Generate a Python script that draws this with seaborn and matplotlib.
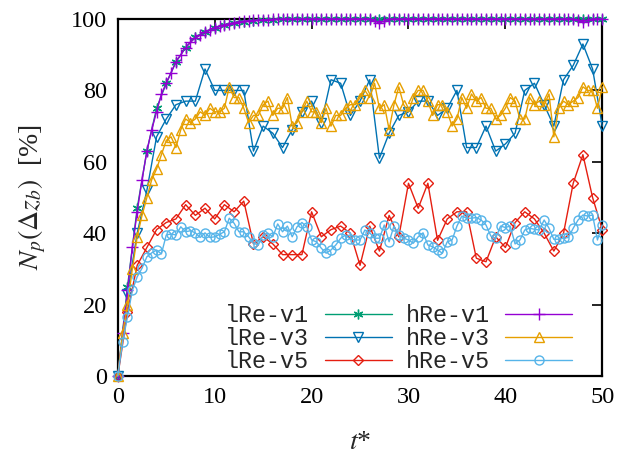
import numpy as np
import pandas as pd
import matplotlib
matplotlib.use("Agg")
import matplotlib.pyplot as plt
import seaborn as sns

# ---------------- data ----------------
t_low = np.arange(0, 51, 1.0)      # lRe series sampled every 1
t_high = np.arange(0, 50.5, 0.5)   # hRe series sampled every 0.5

lRe_v1 = [0, 25, 47, 63, 75, 82, 88, 92, 95, 96.5,
          97.5, 98.3, 98.8, 99.2, 99.5, 99.7, 99.8, 99.9, 100, 100,
          100, 100, 100, 100, 100, 100, 100, 100, 100, 100,
          100, 100, 100, 100, 100, 100, 100, 100, 100, 100,
          100, 100, 100, 100, 100, 100, 100, 100, 100, 100,
          100]
lRe_v3 = [0, 23, 40, 52, 67, 72, 76, 77, 77, 86,
          80, 80, 80, 80, 63, 70, 68, 64, 69, 74,
          77, 71, 83, 82, 73, 77, 83, 61, 68, 73,
          74, 77, 77, 73, 75, 80, 64, 64, 70, 63,
          65, 68, 80, 82, 76, 70, 83, 87, 93, 86,
          70]
lRe_v5 = [0, 18, 31, 36, 41, 43, 44, 48, 45, 47,
          44, 48, 46, 49, 37, 39, 37, 34, 34, 34,
          46, 39, 41, 42, 40, 31, 42, 35, 45, 39,
          54, 47, 54, 38, 44, 46, 46, 33, 32, 39,
          36, 43, 46, 44, 40, 35, 40, 54, 62, 50,
          41]
hRe_v1 = [0, 12, 24, 36, 46, 55, 63, 69, 74, 79,
          82, 85, 88, 90, 92, 93.5, 94.7, 95.5, 96.4, 97,
          97.6, 98, 98.4, 98.7, 99, 99.2, 99.4, 99.5, 99.6, 99.7,
          99.8, 99.8, 99.9, 99.9, 100, 100, 100, 100, 100, 100,
          100, 100, 100, 100, 100, 100, 100, 100, 100, 100,
          100, 100, 100, 99.5, 98.8, 99.5, 100, 100, 100, 100,
          100, 100, 100, 100, 100, 100, 100, 100, 100, 100,
          100, 100, 100, 100, 100, 100, 100, 100, 100, 100,
          100, 100, 100, 100, 100, 100, 100, 100, 100, 100,
          100, 100, 100, 100, 100, 99.6, 99.3, 99.7, 100, 100,
          100]
hRe_v3 = [0, 12, 20, 30, 39, 45, 50, 55, 58, 62,
          66, 67, 64, 69, 72, 71, 72, 74, 73, 75,
          74, 74, 75, 81, 78, 78, 75, 71, 73, 73,
          76, 77, 73, 75, 75, 78, 70, 71, 74, 77,
          74, 74, 71, 75, 70, 73, 73, 75, 76, 76,
          78, 80, 78, 82, 75, 76, 69, 76, 81, 76,
          74, 78, 80, 80, 77, 73, 76, 76, 74, 70,
          72, 78, 75, 79, 77, 78, 75, 75, 72, 73,
          75, 78, 77, 72, 72, 78, 76, 77, 76, 79,
          67, 75, 77, 76, 77, 78, 81, 80, 80, 75,
          81]
hRe_v5 = [0, 9.6, 16.6, 24, 27.8, 30.2, 33.4, 34.5, 35.3, 34.2,
          39.5, 39.8, 39.5, 41.8, 40.4, 40.7, 40.1, 38.8, 40.1, 38.8,
          39, 39.7, 40.4, 44.2, 42.8, 40.4, 40.4, 39, 37.2, 36.7,
          39.5, 40, 39, 42.6, 40.4, 42, 39, 41.8, 43, 41.8,
          38.1, 37.6, 35.8, 34.4, 35.3, 36.7, 38.6, 39.5, 38.3, 38.1,
          38.1, 40.9, 40.1, 38.6, 38.6, 42.3, 37.6, 42, 39.5, 38.6,
          38.1, 37.2, 39, 40.1, 36.7, 36.2, 35.3, 34.4, 37.6, 38.1,
          42, 44.8, 44.2, 44.2, 44.4, 43.7, 42.3, 39.2, 38.6, 42,
          41.6, 42, 37, 38.1, 40.9, 41.4, 41.1, 40.9, 43.7, 41.4,
          38.3, 38.3, 38.6, 38.8, 41.4, 43.7, 45.1, 44.8, 45.1, 38.1,
          42.3]

labels = ["lRe-v1", "lRe-v3", "lRe-v5", "hRe-v1", "hRe-v3", "hRe-v5"]
colors = ["#009e73", "#0072b2", "#e51e10", "#9400d3", "#e69f00", "#56b4e9"]
markers = [(6, 2, 0), "v", "D", "+", "^", "o"]
msizes = [7, 6.8, 5, 8, 6.8, 6.5]

series = [(t_low, lRe_v1), (t_low, lRe_v3), (t_low, lRe_v5),
          (t_high, hRe_v1), (t_high, hRe_v3), (t_high, hRe_v5)]

# ---------------- style ----------------
sns.set_theme(style="white")
plt.rcParams["font.family"] = ["Liberation Serif", "DejaVu Serif"]
plt.rcParams["mathtext.fontset"] = "stix"

fig = plt.figure(figsize=(6.3, 4.55), dpi=100)
ax = fig.add_axes([0.187, 0.1736, 0.769, 0.7846])

for (tx, vals), lab, col, mk, ms in zip(series, labels, colors, markers, msizes):
    df = pd.DataFrame({"t": tx, "v": vals})
    filled = mk in ("+", (6, 2, 0))
    sns.lineplot(data=df, x="t", y="v", ax=ax, color=col, label=lab,
                 marker=mk, markersize=ms, linewidth=1.0,
                 markerfacecolor=col if filled else "none",
                 markeredgecolor=col, markeredgewidth=1.0,
                 clip_on=False, zorder=3)

ax.set_xlim(0, 50)
ax.set_ylim(0, 100)
ax.set_xticks([0, 10, 20, 30, 40, 50])
ax.set_yticks([0, 20, 40, 60, 80, 100])
ax.tick_params(direction="in", length=7, width=1.2, top=True, right=True,
               labelsize=17.5, pad=8, colors="black")
for sp in ax.spines.values():
    sp.set_linewidth(1.6)
    sp.set_color("black")
    sp.set_visible(True)
    sp.set_zorder(2)

ax.set_xlabel(r"$t$*", fontsize=20, labelpad=16)
ax.set_ylabel(r"$N_p(\Delta z_b)$  [%]", fontsize=20, labelpad=16)

handles, labs = ax.get_legend_handles_labels()
leg = ax.legend(handles, labs, ncol=2, loc="lower right",
                bbox_to_anchor=(0.972, -0.038), frameon=False,
                markerfirst=False, handlelength=2.9, handletextpad=0.65,
                columnspacing=0.57, labelspacing=0.0, borderpad=0.2,
                prop={"family": "Liberation Mono", "size": 16.8})

fig.savefig("out.png", dpi=100)
